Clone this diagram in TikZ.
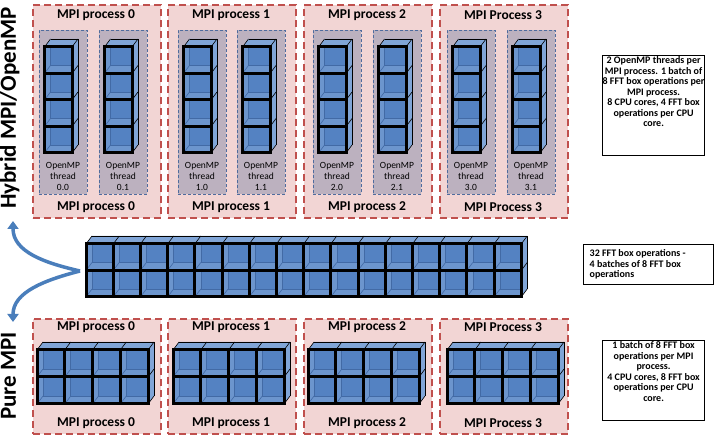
\documentclass[tikz,border=0pt]{standalone}
\usepackage{fontspec}
\setmainfont{Carlito}
\usetikzlibrary{arrows.meta}

\definecolor{procred}{RGB}{192,80,77}
\definecolor{procpink}{RGB}{242,213,212}
\definecolor{threadblue}{RGB}{79,108,158}
\definecolor{threadgray}{RGB}{188,177,191}
\definecolor{cubecore}{RGB}{84,130,194}
\definecolor{cubestrip}{RGB}{108,149,205}
\definecolor{cubelight}{RGB}{128,165,215}
\definecolor{cubeedge}{RGB}{66,106,165}
\definecolor{arrowblue}{RGB}{74,126,187}

\newcommand{\cubedx}{6}
\newcommand{\cubedy}{8}

% block of FFT boxes: x, y (front top left), columns, rows, cell width, cell height
\newcommand{\fftblock}[6]{%
	\begin{scope}[shift={(#1,#2)}]
		\pgfmathsetmacro{\blockw}{#3*#5}
		\pgfmathsetmacro{\blockh}{#4*#6}
		\fill[cubelight] (0,0) -- (\cubedx,-\cubedy) -- (\blockw+\cubedx,-\cubedy) -- (\blockw+\cubedx,\blockh-\cubedy) -- (\blockw,\blockh) -- (\blockw,0) -- cycle;
		\fill[cubestrip] (0,0) rectangle (\blockw,\blockh);
		\foreach \i in {1,...,#3} {
			\foreach \j in {1,...,#4} {
				\pgfmathsetmacro{\cellx}{(\i-1)*#5}
				\pgfmathsetmacro{\celly}{(\j-1)*#6}
				\fill[cubecore] (\cellx+\cubedx,\celly) rectangle (\cellx+#5,\celly+#6-\cubedy);
				\draw[cubehidden] (\cellx+\cubedx,\celly) -- (\cellx+\cubedx,\celly+#6-\cubedy) -- (\cellx+#5,\celly+#6-\cubedy);
				\draw[cubehidden] (\cellx,\celly+#6) -- ++(\cubedx,-\cubedy);
			}
		}
		\foreach \i in {0,...,#3}
			\draw[cubethin] (\i*#5,0) -- ++(\cubedx,-\cubedy);
		\foreach \j in {1,...,#4}
			\draw[cubethin] (\blockw,\j*#6) -- ++(\cubedx,-\cubedy);
		\draw[cubethin] (\cubedx,-\cubedy) -- (\blockw+\cubedx,-\cubedy) -- (\blockw+\cubedx,\blockh-\cubedy);
		% thick front grid
		\foreach \i in {1,...,#3}
			\draw[cubeframe] (\i*#5,0) -- (\i*#5,\blockh);
		\foreach \j in {1,...,#4}
			\draw[cubeframe] (0,\j*#6) -- (\blockw,\j*#6);
		\draw[cubeframe] (0,0) rectangle (\blockw,\blockh);
	\end{scope}}

\tikzset{
	procbox/.style={draw=procred, fill=procpink, line width=2.2pt, dash pattern=on 7pt off 4pt, minimum width=128pt, anchor=north west, inner sep=0pt},
	threadbox/.style={draw=threadblue, fill=threadgray, line width=.8pt, dash pattern=on 3pt off 2pt, minimum width=48pt, minimum height=164pt, anchor=north west, inner sep=0pt},
	proclabel/.style={font=\fontsize{13.5}{15}\selectfont\bfseries, inner sep=0pt},
	threadlabel/.style={font=\fontsize{9.5}{11}\selectfont, align=center, inner sep=0pt},
	notebox/.style={draw, line width=1.2pt, anchor=north west, inner sep=0pt},
	notetext/.style={font=\fontsize{10}{10.5}\selectfont\bfseries, align=center, inner sep=1.5pt},
	modelabel/.style={font=\fontsize{23}{26}\selectfont\bfseries, rotate=90, anchor=base},
	splitarrow/.style={draw=arrowblue, line width=3.5pt, -{Triangle[length=8pt,width=11pt]}},
	cubehidden/.style={draw=cubeedge, line width=.6pt},
	cubethin/.style={draw=black, line width=.6pt},
	cubeframe/.style={draw=black, line width=3pt, line join=miter}
}

\begin{document}
\begin{tikzpicture}[x=1pt,y=-1pt]
	\useasboundingbox (0,0) rectangle (715,435);

	% MPI processes, hybrid and pure
	\foreach \n/\x/\lbl in {0/32/MPI process 0, 1/167/MPI process 1, 2/303/MPI process 2, 3/439/MPI Process 3} {
		\node[procbox, minimum height=213pt] (hybrid\n) at (\x,4) {};
		\node[proclabel] (hybridtop\n) at (\x+64,15) {\lbl};
		\node[proclabel] (hybridbottom\n) at (\x+64,207) {\lbl};
		\node[procbox, minimum height=115pt] (pure\n) at (\x,318) {};
		\node[proclabel] (puretop\n) at (\x+64,327) {\lbl};
		\node[proclabel] (purebottom\n) at (\x+64,423) {\lbl};
	}

	% OpenMP threads
	\foreach \t/\x/\lbl in {0/39/0.0, 1/99/0.1, 2/178/1.0, 3/237/1.1, 4/313/2.0, 5/373/2.1, 6/447/3.0, 7/507/3.1} {
		\node[threadbox] (thread\t) at (\x,30) {};
		\node[threadlabel] (threadlabel\t) at (\x+24,176) {OpenMP\\thread\\\lbl};
		\fftblock{\x+5.5}{47}{1}{4}{27.5}{26.5}
	}

	% all FFT boxes
	\fftblock{86}{244}{16}{2}{27.2}{26.5}

	% pure MPI batches
	\foreach \x in {37,173,308,447} {
		\fftblock{\x}{350}{4}{2}{27.75}{27}
	}

	\node[modelabel] (hybridlabel) at (16,108) {Hybrid MPI/OpenMP};
	\node[modelabel] (purelabel) at (16,376) {Pure MPI};

	\coordinate (split) at (80,271);
	\coordinate (hybridtip) at (13,221);
	\coordinate (puretip) at (13,322);
	\draw[splitarrow] (split) .. controls (45,263) and (13,252) .. (hybridtip);
	\draw[splitarrow] (split) .. controls (45,280) and (13,292) .. (puretip);

	% notes
	\node[notebox, minimum width=102pt, minimum height=100pt] (hybridnote) at (602,55) {};
	\node[notetext, anchor=north] (hybridtext) at (hybridnote.north) {2 OpenMP threads per\\MPI process. 1 batch of\\8 FFT box operations per\\MPI process.\\8 CPU cores, 4 FFT box\\operations per CPU\\core.};
	\node[notebox, minimum width=130pt, minimum height=40pt] (batchnote) at (583,244) {};
	\node[notetext, align=left, anchor=west] (batchtext) at ([xshift=5pt]batchnote.west) {32 FFT box operations -\\4 batches of 8 FFT box\\operations};
	\node[notebox, minimum width=102pt, minimum height=80pt] (purenote) at (602,340) {};
	\node[notetext, anchor=north] (puretext) at (purenote.north) {1 batch of 8 FFT box\\operations per MPI\\process.\\4 CPU cores, 8 FFT box\\operations per CPU\\core.};
\end{tikzpicture}
\end{document}
